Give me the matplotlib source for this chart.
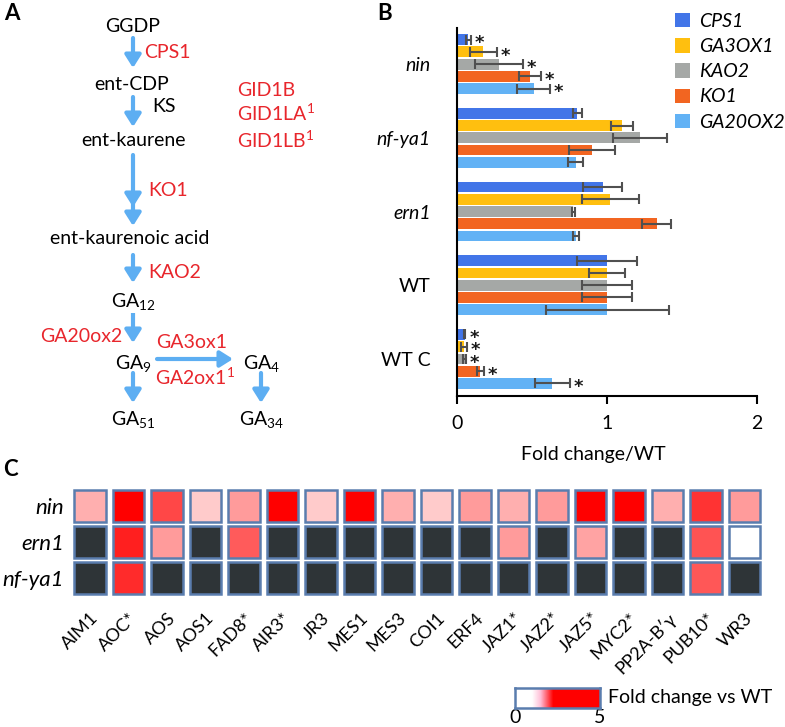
import numpy as np
import matplotlib
matplotlib.use('Agg')
import matplotlib.pyplot as plt
from matplotlib.patches import Rectangle
from matplotlib.colors import LinearSegmentedColormap
import matplotlib.transforms as mtransforms

plt.rcParams['font.family'] = ['Lato', 'DejaVu Sans']
plt.rcParams['mathtext.fontset'] = 'custom'
plt.rcParams['mathtext.rm'] = 'Lato'
plt.rcParams['mathtext.it'] = 'Lato:italic'
plt.rcParams['mathtext.bf'] = 'Lato:bold'

# ---------------- Panel B data ----------------
lines_b = ['nin', 'nf-ya1', 'ern1', 'WT', 'WT C']
italic_b = [True, True, True, False, False]
genes_b = ['CPS1', 'GA3OX1', 'KAO2', 'KO1', 'GA20OX2']
colors_b = ['#4275E8', '#FFBF0F', '#A5A8A6', '#F26521', '#62B2F5']
cps1_mean = [0.075, 0.80, 0.97, 1.0, 0.05]
cps1_err = [0.015, 0.03, 0.13, 0.20, 0.006]
ga3ox1_mean = [0.175, 1.10, 1.02, 1.0, 0.045]
ga3ox1_err = [0.09, 0.075, 0.19, 0.12, 0.02]
kao2_mean = [0.28, 1.22, 0.775, 1.0, 0.05]
kao2_err = [0.16, 0.18, 0.01, 0.165, 0.012]
ko1_mean = [0.487, 0.90, 1.33, 1.0, 0.155]
ko1_err = [0.075, 0.155, 0.095, 0.165, 0.022]
ga20ox2_mean = [0.51, 0.79, 0.79, 1.0, 0.635]
ga20ox2_err = [0.11, 0.05, 0.02, 0.41, 0.115]
significant_b = [True, False, False, False, True]
means_b = [cps1_mean, ga3ox1_mean, kao2_mean, ko1_mean, ga20ox2_mean]
errs_b = [cps1_err, ga3ox1_err, kao2_err, ko1_err, ga20ox2_err]
xticks_b = [0, 1, 2]

# ---------------- Panel C data ----------------
genes_c = ['AIM1', 'AOC*', 'AOS', 'AOS1', 'FAD8*', 'AIR3*', 'JR3', 'MES1', 'MES3',
           'COI1', 'ERF4', 'JAZ1*', 'JAZ2*', 'JAZ5*', 'MYC2*', 'PP2A-B\u2032\u03b3',
           'PUB10*', 'WR3']
rows_c = ['nin', 'ern1', 'nf-ya1']
nan = np.nan
nin_fc = [1.4, 3.0, 1.9, 1.25, 1.5, 3.0, 1.25, 3.0, 1.4, 1.25, 1.5, 1.4, 1.5, 3.0, 3.0, 1.4, 2.0, 1.5]
ern1_fc = [nan, 2.1, 1.5, nan, 1.8, nan, nan, nan, nan, nan, nan, 1.5, nan, 1.45, nan, nan, 1.85, 0.8]
nfya1_fc = [nan, 2.05, nan, nan, nan, nan, nan, nan, nan, nan, nan, nan, nan, nan, nan, nan, 1.82, nan]
cbar_ticks = [0, 5]

W, H = 785, 727
fig = plt.figure(figsize=(W / 100, H / 100), dpi=100)

def px_axes(x0, y0, x1, y1):
    return fig.add_axes([x0 / W, 1 - y1 / H, (x1 - x0) / W, (y1 - y0) / H])

# overlay axes in pixel coordinates for the diagram (panel A) and letters
ov = fig.add_axes([0, 0, 1, 1])
ov.set_xlim(0, W)
ov.set_ylim(H, 0)
ov.axis('off')

red = '#E8262C'
acol = '#5DAEF2'
fs_a = 14

def txt(x, y, s, color='black', ha='center', size=fs_a, **kw):
    ov.text(x, y, s, color=color, ha=ha, va='center', fontsize=size, **kw)

def arrow(x0, y0, x1, y1):
    ov.annotate('', xy=(x1, y1), xytext=(x0, y0),
                arrowprops=dict(arrowstyle='-|>,head_length=0.38,head_width=0.24',
                                lw=3.0, color=acol, shrinkA=0, shrinkB=0,
                                mutation_scale=20))

txt(4, 14, 'A', size=16, fontweight='bold', ha='left')
txt(377, 14, 'B', size=16, fontweight='bold', ha='left')
txt(3, 470, 'C', size=16, fontweight='bold', ha='left')

txt(133, 27, 'GGDP')
txt(144, 53, 'CPS1', color=red, ha='left')
txt(132, 84, 'ent-CDP')
txt(152, 107, 'KS', ha='left')
txt(133, 140, 'ent-kaurene')
txt(237, 90, 'GID1B', color=red, ha='left')
txt(237, 113, 'GID1LA$^{1}$', color=red, ha='left')
txt(237, 140, 'GID1LB$^{1}$', color=red, ha='left')
txt(148, 190, 'KO1', color=red, ha='left')
txt(130, 238, 'ent-kaurenoic acid')
txt(148, 273, 'KAO2', color=red, ha='left')
txt(133, 302, 'GA$_{12}$')
txt(122, 336, 'GA20ox2', color=red, ha='right')
txt(133, 363, 'GA$_{9}$')
txt(192, 343, 'GA3ox1', color=red)
txt(195, 377, 'GA2ox1$^{1}$', color=red)
txt(262, 363, 'GA$_{4}$')
txt(133, 420, 'GA$_{51}$')
txt(262, 420, 'GA$_{34}$')

arrow(133, 38, 133, 68)
arrow(133, 97, 133, 127)
arrow(133, 155, 133, 207)
arrow(133, 203, 133, 226)
arrow(133, 255, 133, 283)
ov.plot([133, 133], [313, 327], color=acol, lw=3.0, solid_capstyle='butt')
arrow(133, 331, 133, 343)
arrow(157, 359, 233, 359)
arrow(133, 373, 133, 403)
arrow(261, 373, 261, 403)

# ---------------- Panel B ----------------
axB = px_axes(457, 28, 757, 396)
step_group = 6
nb = len(genes_b)
for k in range(nb):
    ys = [g * step_group + k for g in range(len(lines_b))]
    axB.barh(ys, means_b[k], height=0.88, color=colors_b[k], label=genes_b[k], zorder=2)
    axB.errorbar(means_b[k], ys, xerr=errs_b[k], fmt='none', ecolor='#505050',
                 elinewidth=1.5, capsize=3.5, capthick=1.5, zorder=3)
    for g in range(len(lines_b)):
        if significant_b[g]:
            axB.text(means_b[k][g] + errs_b[k][g] + 0.025, ys[g] + 0.3, '*',
                     ha='left', va='center', fontsize=13, color='#1A1A1A',
                     family=['DejaVu Sans'], fontweight='bold')
centers = [g * step_group + (nb - 1) / 2 for g in range(len(lines_b))]
axB.set_ylim(29.02, -0.94)
axB.set_xlim(0, 2)
axB.set_xticks(xticks_b)
axB.set_xticklabels([str(t) for t in xticks_b], fontsize=14)
axB.set_yticks(centers)
axB.set_yticklabels(lines_b, fontsize=14)
for lab, it in zip(axB.get_yticklabels(), italic_b):
    if it:
        lab.set_fontstyle('italic')
    lab.set_transform(lab.get_transform() + mtransforms.ScaledTranslation(0, 5 / 100, fig.dpi_scale_trans))
axB.tick_params(axis='y', length=0, pad=19)
axB.tick_params(axis='x', length=6, width=1.5, pad=8, direction='out')
for s in ['top', 'right']:
    axB.spines[s].set_visible(False)
for s in ['left', 'bottom']:
    axB.spines[s].set_linewidth(1.5)
axB.set_xlabel('Fold change/WT', fontsize=14)
axB.xaxis.set_label_coords(0.455, -0.135)
leg = axB.legend(loc='upper left', bbox_to_anchor=(675 / W, 1 - 13 / H),
                 bbox_transform=fig.transFigure, frameon=False, fontsize=14,
                 handlelength=0.75, handleheight=0.75, handletextpad=0.5,
                 labelspacing=0.42, borderaxespad=0, borderpad=0)
for t in leg.get_texts():
    t.set_fontstyle('italic')

# ---------------- Panel C ----------------
axC = px_axes(70.75, 488, 763.75, 596)
cmap = LinearSegmentedColormap.from_list(
    'fc', [(0, '#FFFFFF'), (0.2, '#FFFFFF'), (0.45, '#FF0000'), (1, '#FF0000')])
cmap_bar = LinearSegmentedColormap.from_list(
    'fcbar', [(0, '#FFFFFF'), (0.2, '#FFFFFF'), (0.3, '#FFC0D8'), (0.45, '#FF0000'), (1, '#FF0000')])
data_c = [nin_fc, ern1_fc, nfya1_fc]
cw, ch = 0.83, 0.875
for r, rowvals in enumerate(data_c):
    for i, v in enumerate(rowvals):
        fc = '#2E3437' if np.isnan(v) else cmap(v / 5.0)
        axC.add_patch(Rectangle((i - cw / 2, r - ch / 2), cw, ch, facecolor=fc,
                                edgecolor='#5A7DAE', lw=1.8))
axC.set_xlim(-0.5, len(genes_c) - 0.5)
axC.set_ylim(len(rows_c) - 0.5, -0.5)
for s in axC.spines.values():
    s.set_visible(False)
axC.set_yticks(range(len(rows_c)))
axC.set_yticklabels(rows_c, fontsize=16, fontstyle='italic')
axC.set_xticks(range(len(genes_c)))
axC.set_xticklabels(genes_c, fontsize=13, rotation=45, ha='right', va='top',
                    rotation_mode='anchor')
for lab in axC.get_xticklabels():
    lab.set_transform(lab.get_transform() + mtransforms.ScaledTranslation(10 / 100, -2 / 100, fig.dpi_scale_trans))
axC.tick_params(axis='both', length=0)
axC.tick_params(axis='y', pad=5)
axC.tick_params(axis='x', pad=10)

# colorbar
axCB = px_axes(515, 688, 600, 708)
grad = np.linspace(0, 5, 256).reshape(1, -1)
axCB.imshow(grad, aspect='auto', cmap=cmap_bar, vmin=0, vmax=5, extent=[0, 5, 0, 1])
axCB.set_yticks([])
axCB.set_xticks(cbar_ticks)
axCB.set_xticklabels([str(t) for t in cbar_ticks], fontsize=14)
axCB.tick_params(axis='x', length=0, pad=1)
for s in axCB.spines.values():
    s.set_color('#5A7DAE')
    s.set_linewidth(1.8)
fig.text(608 / W, 1 - 698 / H, 'Fold change vs WT', fontsize=14, ha='left', va='center')

fig.savefig('out.png', dpi=100)
